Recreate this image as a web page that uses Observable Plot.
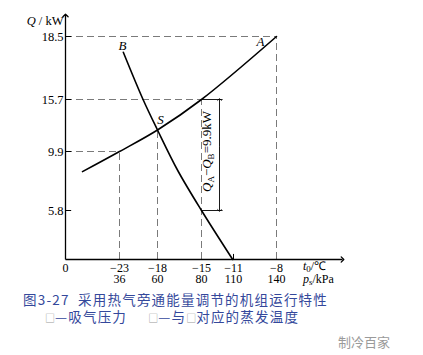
<!DOCTYPE html>
<html><head><meta charset="utf-8">
<script src="https://cdn.jsdelivr.net/npm/d3@7"></script>
<script src="https://cdn.jsdelivr.net/npm/@observablehq/plot@0.6"></script>
<style>
body{margin:0;background:#fff;width:423px;height:355px;overflow:hidden;position:relative;}
#chart svg{display:block;}
.cap{position:absolute;font-family:"Noto Sans CJK SC";color:#34489b;white-space:pre;font-size:13.5px;letter-spacing:1.2px;line-height:14px;}
.box{font-size:10px;color:#999;letter-spacing:0;}
#wm{position:absolute;left:338px;top:332px;font-family:"Noto Sans CJK SC";font-size:13px;color:#9a9a9a;}
</style></head><body>
<div id="chart"></div>
<div class="cap" style="top:292px;left:23px">图3-27  采用热气旁通能量调节的机组运行特性</div>
<div class="cap" style="top:309px;left:45px"><span class="box">□</span>—吸气压力     <span class="box">□</span>—与<span class="box">□</span>对应的蒸发温度</div>
<div id="wm">制冷百家</div>
<script>
// tick values
const t0Ticks = [-23, -18, -15, -11, -8];
const psTicks = [36, 60, 80, 110, 140];
const qTicks = [18.5, 15.7, 9.9, 5.8];
// curve A (compressor capacity) and curve B (evaporator)
const curveA_t0 = [-27.8, -23, -18, -15, -8];
const curveA_Q  = [8.5, 9.9, 12.3, 15.7, 18.5];
const curveB_t0 = [-22.5, -19.9, -18, -16.62, -15, -11.1];
const curveB_Q  = [17.8, 15.7, 12.3, 8.58, 5.8, 0];
// guide points (dashed lines)
const guideT = [-8, -15, -18, -23];
const guideQ = [18.5, 15.7, 12.3, 9.9];
const hGuideIdx = [0, 1, 3];
// axis extents
const xOrigin = -30, xEnd = -3.5, qTop = 19.5;

const A = curveA_t0.map((t, i) => ({t, q: curveA_Q[i]}));
const B = curveB_t0.map((t, i) => ({t, q: curveB_Q[i]}));
const guides = guideT.map((t, i) => ({t, q: guideQ[i]}));
const hGuides = hGuideIdx.map(i => guides[i]);
const S = guides[2];

const serif = "Liberation Serif";
const dash = {stroke: "#7a7a7a", strokeWidth: 1, strokeDasharray: "7,4"};

const chart = Plot.plot({
  width: 423,
  height: 288,
  x: {type: "linear", axis: null, domain: [xOrigin, ...t0Ticks, xEnd], range: [65, 119, 157, 201, 233, 276, 342]},
  y: {type: "linear", axis: null, domain: [0, 5.8, 9.9, 15.7, 18.5, qTop], range: [259, 210, 151, 99, 36, 15]},
  style: {fontFamily: serif, fontSize: "12px", background: "#fff"},
  marks: [
    Plot.ruleY(hGuides, {y: "q", x1: xOrigin, x2: "t", ...dash}),
    Plot.ruleX(guides, {x: "t", y1: 0, y2: "q", ...dash}),
    // axes
    Plot.link([0], {x1: xOrigin, y1: 0, x2: xEnd, y2: 0, stroke: "black", strokeWidth: 1.3, markerEnd: "arrow"}),
    Plot.link([0], {x1: xOrigin, y1: 0, x2: xOrigin, y2: qTop, stroke: "black", strokeWidth: 1.3, markerEnd: "arrow"}),
    Plot.ruleY(qTicks, {y: d => d, x1: xOrigin, x2: xOrigin + 0.8, stroke: "black"}),
    Plot.ruleX([-11], {x: d => d, y1: 0, y2: 0.6, stroke: "black"}),
    // curves
    Plot.line(A, {x: "t", y: "q", curve: "catmull-rom", stroke: "black", strokeWidth: 1.6}),
    Plot.line(B, {x: "t", y: "q", curve: "catmull-rom", stroke: "black", strokeWidth: 1.6}),
    // annotation of Q_A - Q_B
    Plot.ruleY([15.7, 5.8], {y: d => d, x1: -15, x2: -12.3, stroke: "black", strokeWidth: 0.9}),
    Plot.link([0], {x1: -12.75, x2: -12.75, y1: 10.5, y2: 15.7, stroke: "black", strokeWidth: 0.9, markerEnd: "arrow"}),
    Plot.link([0], {x1: -12.75, x2: -12.75, y1: 10.5, y2: 5.8, stroke: "black", strokeWidth: 0.9, markerEnd: "arrow"}),
    Plot.text(["QA−QB=9.9kW"], {x: -14.3, y: 9.9, text: d => d, rotate: -90, fontSize: 13, fontFamily: serif}),
    // curve labels
    Plot.text(["A"], {x: -9.12, y: 18.25, text: d => d, fontStyle: "italic", fontSize: 13}),
    Plot.text(["B"], {x: -22.6, y: 18.1, text: d => d, fontStyle: "italic", fontSize: 13}),
    Plot.text([S], {x: "t", y: "q", text: () => "S", dx: 3, dy: -10, fontStyle: "italic", fontSize: 13}),
    // tick labels
    Plot.text(t0Ticks, {x: d => d, y: 0, text: d => "−" + Math.abs(d), dy: 8.5, fontSize: 12}),
    Plot.text(psTicks, {x: (d, i) => t0Ticks[i], y: 0, text: d => String(d), dy: 20, fontSize: 12}),
    Plot.text(["0"], {x: xOrigin, y: 0, text: d => d, dy: 8.5, fontSize: 12}),
    Plot.text(qTicks, {x: xOrigin, y: d => d, text: d => d.toFixed(1), textAnchor: "end", dx: -2, fontSize: 12.5}),
    // axis labels
    Plot.text(["Q / kW"], {x: xOrigin, y: 19.25, text: d => d, textAnchor: "end", dx: -2, fontSize: 12.5}),
    Plot.text(["t0/℃"], {x: -6.2, y: 0, text: d => d, textAnchor: "start", dy: 7, fontSize: 12}),
    Plot.text(["ps/kPa"], {x: -6.2, y: 0, text: d => d, textAnchor: "start", dy: 19.5, fontSize: 12})
  ]
});
document.getElementById("chart").appendChild(chart);

// rich text (italic symbols, subscripts)
const sub = (s, d) => `<tspan dy="${d}" font-size="9">${s}</tspan>`;
const rich = {
  "QA−QB=9.9kW": '<tspan font-style="italic">Q</tspan>' + sub("A", 3) + '<tspan dy="-3">−</tspan><tspan font-style="italic">Q</tspan>' + sub("B", 3) + '<tspan dy="-3">=9.9kW</tspan>',
  "Q / kW": '<tspan font-style="italic">Q</tspan><tspan> / kW</tspan>',
  "t0/℃": '<tspan font-style="italic">t</tspan>' + sub("0", 2) + '<tspan dy="-2">/℃</tspan>',
  "ps/kPa": '<tspan font-style="italic">p</tspan>' + sub("s", 2) + '<tspan dy="-2">/kPa</tspan>'
};
chart.querySelectorAll("text").forEach(el => {
  const k = el.textContent;
  if (rich[k]) el.innerHTML = rich[k];
});
</script>
</body></html>
